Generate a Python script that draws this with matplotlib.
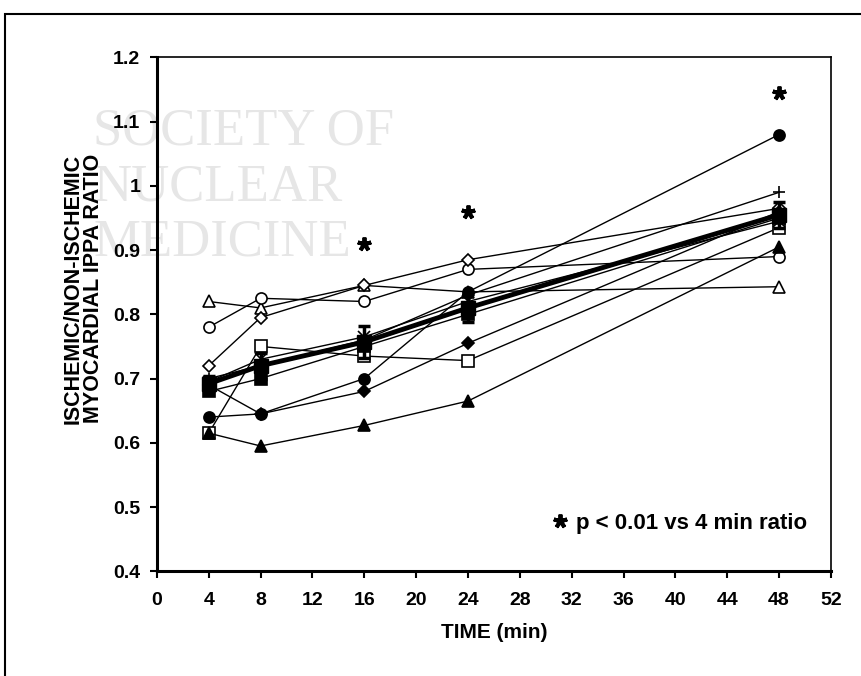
import matplotlib
matplotlib.use("Agg")
import matplotlib.pyplot as plt
from matplotlib.patches import Rectangle

plt.rcParams['font.family'] = ['Liberation Sans', 'DejaVu Sans']
plt.rcParams['font.weight'] = 'bold'

# sampling times (min)
times = [4, 8, 16, 24, 48]

# individual animals
open_triangle = [0.82, 0.81, 0.845, 0.835, 0.843]
open_circle = [0.78, 0.825, 0.82, 0.87, 0.89]
open_diamond = [0.72, 0.795, 0.845, 0.885, 0.965]
open_square = [0.615, 0.75, 0.735, 0.728, 0.935]
filled_circle = [0.64, 0.645, 0.70, 0.835, 1.08]
filled_diamond = [0.69, 0.645, 0.68, 0.755, 0.96]
filled_triangle = [0.615, 0.595, 0.627, 0.665, 0.905]
plus_series = [0.70, 0.72, 0.76, 0.83, 0.99]
filled_square = [0.68, 0.70, 0.75, 0.80, 0.95]
cross_series = [0.695, 0.73, 0.765, 0.82, 0.945]

# group mean +/- sem
mean_ratio = [0.692, 0.72, 0.757, 0.81, 0.955]
mean_err = [0.012, 0.02, 0.025, 0.022, 0.02]

# significance stars (time, height)
star_times = [16, 24, 48]
star_y = [0.91, 0.96, 1.145]

x_ticks = list(range(0, 53, 4))
y_ticks = [0.4, 0.5, 0.6, 0.7, 0.8, 0.9, 1, 1.1, 1.2]
y_ticklabels = ['0.4', '0.5', '0.6', '0.7', '0.8', '0.9', '1', '1.1', '1.2']

fig = plt.figure(figsize=(8.62, 6.76), dpi=100)

# outer frame of the figure
fig.patches.append(Rectangle((0.006, -0.05), 1.5, 1.03, transform=fig.transFigure,
                             fill=False, lw=1.5, color='black'))

# faint watermark, kept behind the axes
for i, word in enumerate(["SOCIETY OF", "NUCLEAR", "MEDICINE"]):
    fig.text(0.108, 0.805 - i * 0.082, word, family=['Liberation Serif', 'DejaVu Serif'],
             fontsize=38, color='#e6e6e6', fontweight='normal', va='center', zorder=0)

ax = fig.add_axes([0.182, 0.155, 0.782, 0.760])
ax.set_zorder(2)
ax.patch.set_alpha(0)

series = [
    (open_triangle, '^', 'white'),
    (open_circle, 'o', 'white'),
    (open_diamond, 'D', 'white'),
    (open_square, 's', 'white'),
    (filled_circle, 'o', 'black'),
    (filled_diamond, 'D', 'black'),
    (filled_triangle, '^', 'black'),
    (plus_series, '+', 'black'),
    (filled_square, 's', 'black'),
    (cross_series, 'x', 'black'),
]
for vals, mk, fc in series:
    ms = 8 if mk != 'D' else 6.5
    ax.plot(times, vals, color='black', lw=1, marker=mk, ms=ms,
            mfc=fc, mec='black', mew=1.2, zorder=3)

ax.errorbar(times, mean_ratio, yerr=mean_err, color='black', lw=3.5, marker='s',
            ms=10, mfc='black', elinewidth=2.5, capsize=4, capthick=2.5, zorder=5)

ax.plot(star_times, star_y, ls='none', marker=(5, 2, 0), ms=10, color='black',
        mew=2.8, zorder=5)
ax.plot([31.1], [0.478], ls='none', marker=(5, 2, 0), ms=10, color='black', mew=2.8)

ax.text(32.3, 0.475, "p < 0.01 vs 4 min ratio", fontsize=16, fontweight='bold',
        va='center', ha='left')

ax.set_xlim(0, 52)
ax.set_ylim(0.4, 1.2)
ax.set_xticks(x_ticks)
ax.set_yticks(y_ticks)
ax.set_yticklabels(y_ticklabels)
ax.tick_params(axis='both', labelsize=14, direction='out', length=5, width=1.5)
ax.tick_params(axis='x', pad=10)
ax.tick_params(axis='y', pad=7)
for lbl in ax.get_xticklabels() + ax.get_yticklabels():
    lbl.set_fontweight('bold')

ax.spines['left'].set_linewidth(2.2)
ax.spines['bottom'].set_linewidth(2.2)
ax.spines['top'].set_linewidth(1.2)
ax.spines['right'].set_linewidth(1.2)

ax.set_xlabel("TIME (min)", fontsize=15, fontweight='bold', labelpad=10)
ax.set_ylabel("ISCHEMIC/NON-ISCHEMIC\nMYOCARDIAL IPPA RATIO", fontsize=15.5,
              fontweight='bold', labelpad=12, linespacing=1.0)
ax.yaxis.set_label_coords(-0.078, 0.55)

fig.savefig("out.png", dpi=100)
